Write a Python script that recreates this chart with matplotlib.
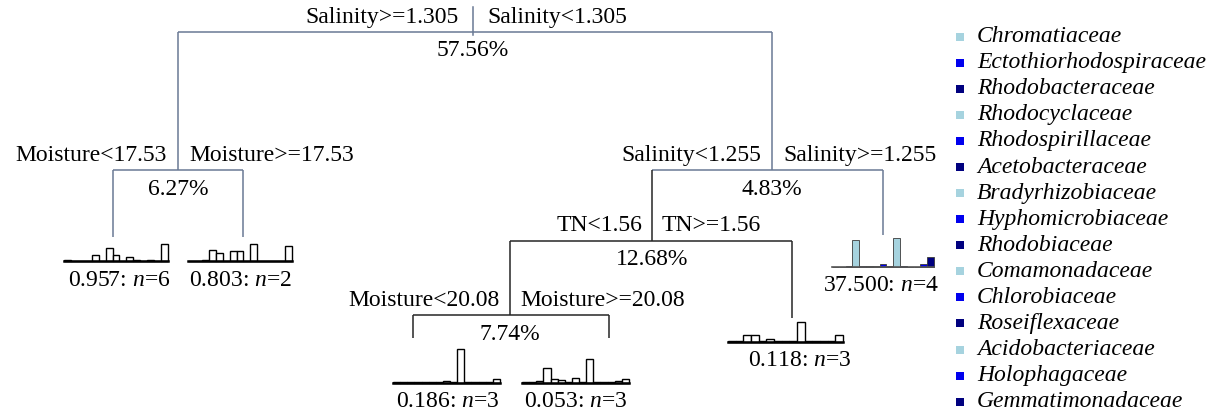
import matplotlib
matplotlib.use('Agg')
import matplotlib.pyplot as plt

plt.rcParams['font.family'] = ['Liberation Serif', 'DejaVu Serif']
plt.rcParams['mathtext.fontset'] = 'custom'
plt.rcParams['mathtext.it'] = 'Liberation Serif:italic'
plt.rcParams['mathtext.rm'] = 'Liberation Serif'

# ---------------- data ----------------
families = ["Chromatiaceae", "Ectothiorhodospiraceae", "Rhodobacteraceae",
            "Rhodocyclaceae", "Rhodospirillaceae", "Acetobacteraceae",
            "Bradyrhizobiaceae", "Hyphomicrobiaceae", "Rhodobiaceae",
            "Comamonadaceae", "Chlorobiaceae", "Roseiflexaceae",
            "Acidobacteriaceae", "Holophagaceae", "Gemmatimonadaceae"]
family_colors = ["#a6d3df", "#0000ee", "#00007f"] * 5

split_left = ["Salinity>=1.305", "Moisture<17.53", "Salinity<1.255", "TN<1.56", "Moisture<20.08"]
split_right = ["Salinity<1.305", "Moisture>=17.53", "Salinity>=1.255", "TN>=1.56", "Moisture>=20.08"]
split_pct = ["57.56%", "6.27%", "4.83%", "12.68%", "7.74%"]

leaf_error = ["0.957", "0.803", "0.186", "0.053", "0.118", "37.500"]
leaf_n = [6, 2, 3, 3, 3, 4]

leaf_a = [1, 0.3, 0.3, 0.3, 6, 0.3, 13, 6, 0.3, 4, 0.7, 0.3, 1, 0.3, 17]
leaf_b = [0.5, 0.5, 1.3, 10.7, 8, 0.3, 10, 10, 0.3, 17, 0.3, 0.3, 0.3, 0.3, 15]
leaf_c = [0.3, 0.3, 1, 0.3, 0.3, 0.5, 0.3, 2, 0.3, 34, 0.3, 0.3, 0.3, 0.3, 4]
leaf_d = [0.3, 0.5, 2, 15, 3.5, 3, 1, 4.3, 0.3, 24, 1, 0.3, 0.3, 2, 4]
leaf_e = [0.3, 0.3, 6.7, 6.7, 0.3, 2.3, 0.3, 0.5, 0.3, 20, 0.3, 0.3, 0.3, 0.7, 7]
leaf_f = [0, 0, 1, 27, 1, 1, 1, 3, 0.5, 29, 0.5, 0, 0, 3, 10]
leaf_values = [leaf_a, leaf_b, leaf_c, leaf_d, leaf_e, leaf_f]

# ---------------- layout ----------------
FS = 17
SLATE = "#6a7994"
DARK = "#262626"

fig = plt.figure(figsize=(12.16, 4.15), dpi=100)
ax = fig.add_axes([0, 0, 1, 1])
ax.set_xlim(0, 1216)
ax.set_ylim(415, 0)
ax.axis('off')

# internal nodes: x, horizontal y, left child x, right child x, color, label gap
nodes = [
    dict(x=473, y=32, xl=178, xr=772, c=SLATE, gap=14),
    dict(x=178, y=170, xl=113, xr=243, c=SLATE, gap=11),
    dict(x=772, y=170, xl=652, xr=883, c=SLATE, gap=11),
    dict(x=652, y=240.7, xl=510, xr=792, c=DARK, gap=10),
    dict(x=510, y=315, xl=413, xr=609, c=DARK, gap=10),
]
# children: ('n', idx) internal node, ('l', idx) leaf
children = [(('n', 1), ('n', 2)), (('l', 0), ('l', 1)), (('n', 3), ('l', 5)),
            (('n', 4), ('l', 4)), (('l', 2), ('l', 3))]

# leaves: x0, total width, baseline, top of drop line, label center x, style
leaves = [
    dict(x0=64, w=104, base=261, top=237, lx=119, colored=False),
    dict(x0=188, w=104, base=261, top=237, lx=241, colored=False),
    dict(x0=393, w=107, base=382.7, top=338, lx=448, colored=False),
    dict(x0=522, w=107, base=382.7, top=338, lx=576, colored=False),
    dict(x0=728, w=115, base=341.7, top=318, lx=800, colored=False),
    dict(x0=832, w=102, base=266.7, top=235, lx=881, colored=True),
]

LW = 1.1
# root tick
ax.plot([473, 473], [7, 35], color=SLATE, lw=LW)

for i, nd in enumerate(nodes):
    ax.plot([nd['xl'], nd['xr']], [nd['y'], nd['y']], color=nd['c'], lw=LW,
            solid_capstyle='butt')
    for side, ch in zip(('xl', 'xr'), children[i]):
        kind, k = ch
        if kind == 'n':
            ybot = nodes[k]['y']
            col = nodes[k]['c']
        else:
            ybot = leaves[k]['top']
            col = nd['c']
        ax.plot([nd[side], nd[side]], [nd['y'], ybot], color=col, lw=LW,
                solid_capstyle='butt')
    ax.text(nd['x'] - nd['gap'], nd['y'] - 15, split_left[i], ha='right',
            va='center', fontsize=FS)
    ax.text(nd['x'] + nd['gap'], nd['y'] - 15, split_right[i], ha='left',
            va='center', fontsize=FS)
    ax.text(nd['x'], nd['y'] + 19, split_pct[i], ha='center', va='center',
            fontsize=FS)

for k, lf in enumerate(leaves):
    vals = leaf_values[k]
    bw = lf['w'] / len(vals)
    xs = [lf['x0'] + j * bw for j in range(len(vals))]
    if lf['colored']:
        ax.bar(xs, [-v for v in vals], width=bw, bottom=lf['base'], align='edge',
               color=family_colors, edgecolor='#3a3a3a', linewidth=0.6, zorder=2)
        ax.plot([lf['x0'], lf['x0'] + lf['w']], [lf['base'], lf['base']],
                color='#555555', lw=1.2, zorder=3)
    else:
        ax.bar(xs, [-v for v in vals], width=bw, bottom=lf['base'], align='edge',
               color='white', edgecolor='black', linewidth=1.0, zorder=2)
        ax.plot([lf['x0'], lf['x0'] + lf['w']], [lf['base'], lf['base']],
                color='black', lw=1.8, zorder=3)
    ax.text(lf['lx'], lf['base'] + 19, f"{leaf_error[k]}: $n$={leaf_n[k]}",
            ha='center', va='center', fontsize=FS)

# legend
for i, fam in enumerate(families):
    y = 36.7 + i * 26.07
    ax.scatter([960], [y], marker='s', s=34, color=family_colors[i], linewidths=0)
    ax.text(977, y, fam, style='italic', ha='left', va='center', fontsize=FS)

fig.savefig('out.png', dpi=100)
